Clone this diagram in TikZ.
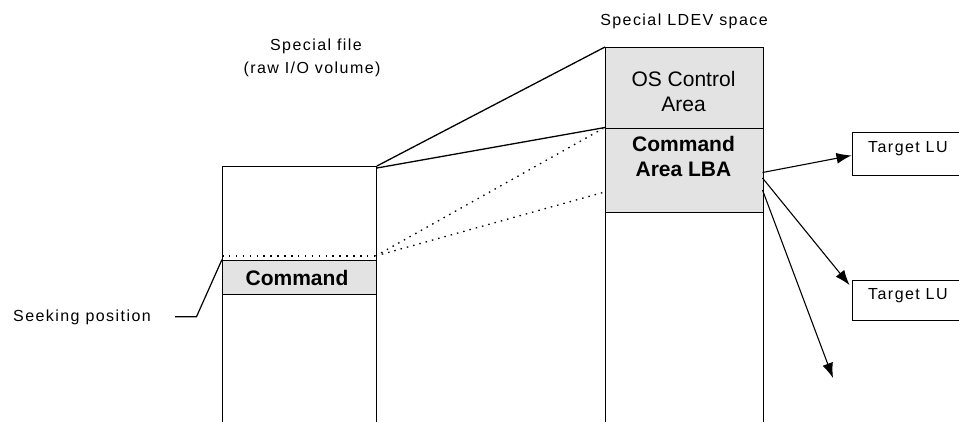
\documentclass[tikz,border=0pt]{standalone}
\usepackage{fontspec}
\setmainfont{Liberation Sans}
\newfontfamily\lblfont[LetterSpace=9]{Liberation Sans}
\usetikzlibrary{arrows.meta,calc}
\definecolor{areagray}{RGB}{227,227,227}
\begin{document}
\begin{tikzpicture}[x=1pt,y=-1pt,
  blk/.style={draw=black,line width=1.4pt,inner sep=0pt,anchor=north west},
  graybox/.style={blk,fill=areagray},
  lbl/.style={font=\lblfont\fontsize{16}{18}\selectfont,inner sep=0pt,anchor=base},
  big/.style={font=\fontsize{21}{24}\selectfont,inner sep=0pt,anchor=base},
  bigb/.style={font=\bfseries\fontsize{21}{24}\selectfont,inner sep=0pt,anchor=base},
  conn/.style={line width=1.3pt},
  dotln/.style={line width=1.3pt,dash pattern=on 1.5pt off 5pt},
  arr/.style={line width=1.1pt,-{Latex[length=15pt,width=11pt]}}]
\useasboundingbox (0,0) rectangle (959,421);
\clip (0,0) rectangle (959,421);
% left column (special file)
\node[blk,minimum width=153.5pt,minimum height=280pt] (lbox) at (222,166) {};
\node[graybox,minimum width=153.5pt,minimum height=34pt] (cmd) at (222,259.5) {};
\node[bigb] (cmdt) at (297,285) {Command};
\coordinate (dl) at (222,256);
\coordinate (dr) at (375.5,256);
\draw[line width=1.3pt,dash pattern=on 1.5pt off 5.4pt] (dl) -- (dr);
% right column (special LDEV space)
\node[blk,minimum width=157.5pt,minimum height=400pt] (rbox) at (605,47) {};
\node[graybox,minimum width=157.5pt,minimum height=80.5pt] (osca) at (605,47) {};
\node[graybox,minimum width=157.5pt,minimum height=84pt] (cala) at (605,127.5) {};
\node[big] (osct1) at (683.5,86) {OS Control};
\node[big] (osct2) at (683.5,111.5) {Area};
\node[bigb] (calt1) at (683.5,151.5) {Command};
\node[bigb] (calt2) at (683.5,176.5) {Area LBA};
% target LUs
\node[blk,minimum width=140pt,minimum height=43.5pt] (tlu1) at (851.5,131.5) {};
\node[blk,minimum width=140pt,minimum height=40pt] (tlu2) at (851.5,280) {};
\node[lbl,anchor=base west] (tlu1t) at (868,152) {Target LU};
\node[lbl,anchor=base west] (tlu2t) at (868,299) {Target LU};
% titles
\node[lbl] (ttl1) at (316,50.5) {Special file};
\node[lbl] (ttl2) at (312,73) {(raw I/O volume)};
\node[lbl] (ttl3) at (684,25.5) {Special LDEV space};
\node[lbl,anchor=base west] (seek) at (13,321) {Seeking position};
% connectors between the columns
\draw[conn] (lbox.north east) -- (osca.north west);
\draw[conn] ($(lbox.north east)+(0,2)$) -- (cala.north west);
\draw[dotln] (dr) -- ($(cala.north west)+(-2,1)$);
\draw[dotln] (dr) -- ($(cala.north west)+(-2,65)$);
% seeking position leader
\draw[line width=1.2pt] (175,316.7) -- (196.5,316.7) -- (cmd.north west);
% arrows to target LUs
\coordinate (a1) at (762.5,172.5);
\coordinate (a2) at (762.5,178);
\coordinate (a3) at (762.5,190);
\coordinate (a3e) at (833,378);
\draw[arr] (a1) -- ($(tlu1.west)+(0,1.5)$);
\draw[arr] (a2) -- ($(tlu2.north west)+(-2,5)$);
\draw[arr] (a3) -- (a3e);
\end{tikzpicture}
\end{document}
